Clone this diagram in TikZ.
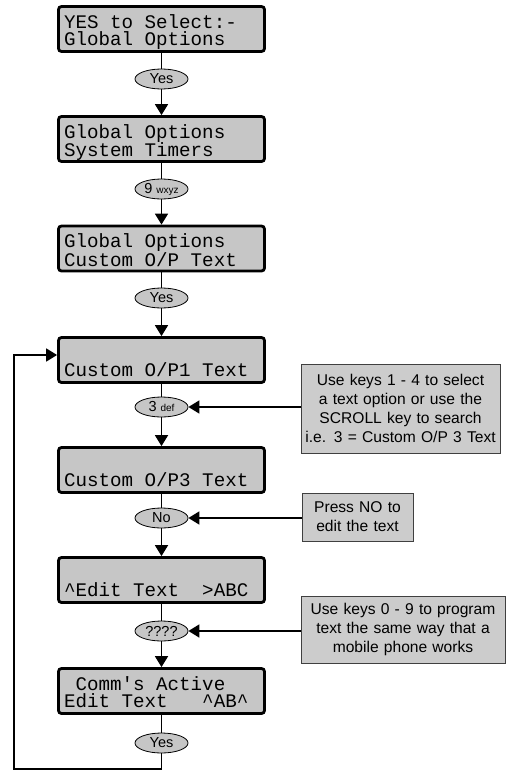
\documentclass[tikz,border=0pt]{standalone}
\usepackage{fontspec}
\setmainfont{Liberation Sans}
\newfontfamily\lcdfont{Liberation Mono}
\usetikzlibrary{arrows.meta,shapes.geometric}
\definecolor{lcdgray}{RGB}{198,198,198}
\definecolor{callgray}{RGB}{204,204,204}
\newcommand{\lcdsel}{\lcdfont\fontsize{19.2}{17}\selectfont\spaceskip=0.6em\relax\xspaceskip=0.6em\relax}
\newcommand{\lsp}{\hspace*{0.6em}}
\tikzset{
  lcd/.style={draw, line width=2.8pt, rounded corners=3pt, fill=lcdgray,
    minimum width=206pt, minimum height=45pt, inner sep=0pt,
    text width=195pt, align=left,
    font=\lcdsel,
    text height=14pt, text depth=16pt},
  keyell/.style={ellipse, draw, fill=lcdgray, line width=0.8pt,
    minimum width=53pt, minimum height=20pt, inner sep=0pt,
    font=\fontsize{14.5}{14.5}\selectfont},
  callout/.style={draw=black!75, line width=0.9pt, fill=callgray,
    inner sep=0pt, align=center, font=\fontsize{15.6}{19}\selectfont},
  ln/.style={line width=1.8pt},
  arr/.style={line width=1.8pt, -{Triangle[length=11pt,width=13pt]}},
}
\newcommand{\smallk}[1]{{\fontsize{10}{10}\selectfont #1}}
\begin{document}
\begin{tikzpicture}[x=1pt,y=-1pt]
\useasboundingbox (0,0) rectangle (507,771);
% LCD boxes
\node[lcd] (b1) at (161.5,29) {YES\lsp to\lsp Select:-\\Global\lsp Options};
\node[keyell] (e1) at (161.5,79) {Yes};
\node[lcd] (b2) at (161.5,139) {Global\lsp Options\\System\lsp Timers};
\node[keyell] (e2) at (161.5,189) {9 \smallk{wxyz}};
\node[lcd] (b3) at (161.5,248.5) {Global\lsp Options\\Custom\lsp O/P\lsp Text};
\node[keyell] (e3) at (161.5,298) {Yes};
\node[lcd] (b4) at (161.5,360) {\mbox{}\\Custom\lsp O/P1\lsp Text};
\node[keyell] (e4) at (161.5,407) {3 \smallk{def}};
\node[lcd] (b5) at (161.5,470) {\mbox{}\\Custom\lsp O/P3\lsp Text};
\node[keyell] (e5) at (161.5,518) {No};
\node[lcd] (b6) at (161.5,580) {\mbox{}\\\textasciicircum Edit\lsp Text\lsp\lsp >ABC};
\node[keyell] (e6) at (161.5,631) {????};
\node[lcd] (b7) at (161.5,691) {\lsp Comm\textquotesingle s\lsp Active\\Edit\lsp Text\lsp\lsp\lsp\textasciicircum AB\textasciicircum};
\node[keyell] (e7) at (161.5,743) {Yes};
% callouts
\node[callout, minimum width=199pt, minimum height=89pt, text width=199pt] (c1) at (400.5,408.5)
  {Use keys 1 - 4 to select\\a text option or use the\\SCROLL key to search\\i.e. 3 = Custom O/P 3 Text};
\node[callout, minimum width=111pt, minimum height=48pt, text width=111pt] (c2) at (357.5,517)
  {Press NO to\\edit the text};
\node[callout, minimum width=204pt, minimum height=67pt, text width=204pt] (c3) at (403,629.5)
  {Use keys 0 - 9 to program\\text the same way that a\\mobile phone works};
% main flow
\draw[ln] (b1) -- (e1);
\draw[arr] (e1) -- (b2);
\draw[ln] (b2) -- (e2);
\draw[arr] (e2) -- (b3);
\draw[ln] (b3) -- (e3);
\draw[arr] (e3) -- (b4);
\draw[ln] (b4) -- (e4);
\draw[arr] (e4) -- (b5);
\draw[ln] (b5) -- (e5);
\draw[arr] (e5) -- (b6);
\draw[ln] (b6) -- (e6);
\draw[arr] (e6) -- (b7);
\draw[ln] (b7) -- (e7);
% callout arrows
\draw[arr] (c1.west |- e4) -- (e4.east);
\draw[arr] (c2.west |- e5) -- (e5.east);
\draw[arr] (c3.west |- e6) -- (e6.east);
% loop back
\coordinate (lc) at (14,769);
\draw[arr] (e7.south) |- (lc) |- ([yshift=5pt]b4.west);
\end{tikzpicture}
\end{document}
